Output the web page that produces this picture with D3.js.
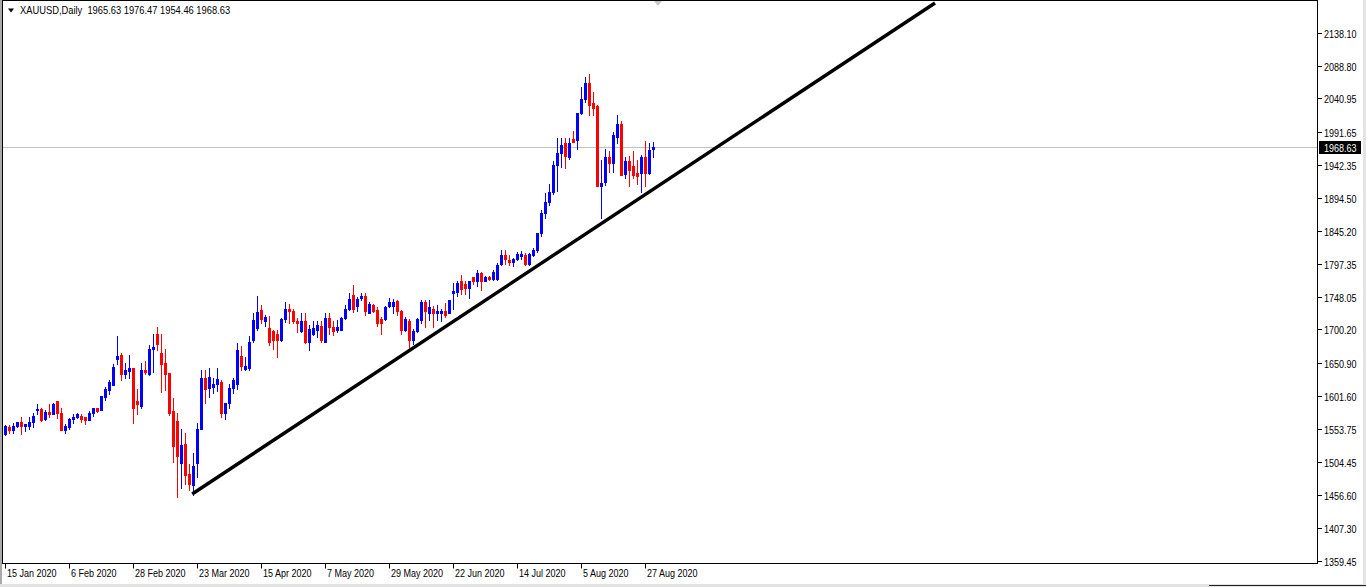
<!DOCTYPE html>
<html><head><meta charset="utf-8">
<script src="https://cdn.jsdelivr.net/npm/d3@7"></script>
<style>
html,body{margin:0;padding:0;background:#fff;overflow:hidden}
svg{display:block}
text{font-family:"Liberation Sans",Arial,sans-serif;font-size:11px;fill:#000}
</style></head><body>
<svg id="c" width="1366" height="587"></svg>
<script>
const symbol = "XAUUSD";
const timeframe = "Daily";
const dates = [
"2020-01-15","2020-01-16","2020-01-17","2020-01-20","2020-01-21","2020-01-22","2020-01-23","2020-01-24","2020-01-27","2020-01-28","2020-01-29","2020-01-30","2020-01-31",
"2020-02-03","2020-02-04","2020-02-05","2020-02-06","2020-02-07","2020-02-10","2020-02-11","2020-02-12","2020-02-13","2020-02-14","2020-02-17","2020-02-18","2020-02-19","2020-02-20","2020-02-21","2020-02-24","2020-02-25","2020-02-26","2020-02-27","2020-02-28",
"2020-03-02","2020-03-03","2020-03-04","2020-03-05","2020-03-06","2020-03-09","2020-03-10","2020-03-11","2020-03-12","2020-03-13","2020-03-16","2020-03-17","2020-03-18","2020-03-19","2020-03-20","2020-03-23","2020-03-24","2020-03-25","2020-03-26","2020-03-27","2020-03-30","2020-03-31",
"2020-04-01","2020-04-02","2020-04-03","2020-04-06","2020-04-07","2020-04-08","2020-04-09","2020-04-13","2020-04-14","2020-04-15","2020-04-16","2020-04-17","2020-04-20","2020-04-21","2020-04-22","2020-04-23","2020-04-24","2020-04-27","2020-04-28","2020-04-29","2020-04-30",
"2020-05-01","2020-05-04","2020-05-05","2020-05-06","2020-05-07","2020-05-08","2020-05-11","2020-05-12","2020-05-13","2020-05-14","2020-05-15","2020-05-18","2020-05-19","2020-05-20","2020-05-21","2020-05-22","2020-05-25","2020-05-26","2020-05-27","2020-05-28","2020-05-29",
"2020-06-01","2020-06-02","2020-06-03","2020-06-04","2020-06-05","2020-06-08","2020-06-09","2020-06-10","2020-06-11","2020-06-12","2020-06-15","2020-06-16","2020-06-17","2020-06-18","2020-06-19","2020-06-22","2020-06-23","2020-06-24","2020-06-25","2020-06-26","2020-06-29","2020-06-30",
"2020-07-01","2020-07-02","2020-07-03","2020-07-06","2020-07-07","2020-07-08","2020-07-09","2020-07-10","2020-07-13","2020-07-14","2020-07-15","2020-07-16","2020-07-17","2020-07-20","2020-07-21","2020-07-22","2020-07-23","2020-07-24","2020-07-27","2020-07-28","2020-07-29","2020-07-30","2020-07-31",
"2020-08-03","2020-08-04","2020-08-05","2020-08-06","2020-08-07","2020-08-10","2020-08-11","2020-08-12","2020-08-13","2020-08-14","2020-08-17","2020-08-18","2020-08-19","2020-08-20","2020-08-21","2020-08-24","2020-08-25","2020-08-26","2020-08-27","2020-08-28","2020-08-31"];
const opens = [1546,1557,1552,1558,1563,1558,1558,1563,1581,1583,1568,1579,1576,1595,1577,1552,1557,1568,1571,1573,1571,1566,1577,1585,1581,1600,1611,1618,1656,1662,1634,1639,1644,1594,1587,1641,1635,1672,1693,1666,1651,1636,1580,1565,1503,1531,1487,1471,1503,1554,1629,1614,1616,1620,1623,1577,1591,1614,1620,1661,1642,1643,1685,1702,1729,1713,1703,1698,1694,1685,1715,1730,1728,1712,1698,1713,1682,1693,1700,1705,1682,1717,1704,1699,1700,1717,1731,1751,1735,1746,1750,1725,1736,1729,1715,1715,1735,1735,1742,1728,1699,1712,1684,1698,1714,1741,1724,1731,1725,1725,1728,1725,1754,1755,1771,1767,1762,1777,1772,1783,1772,1778,1775,1775,1797,1810,1803,1799,1804,1809,1810,1797,1810,1817,1842,1872,1888,1903,1943,1960,1975,1955,1981,1980,2020,2040,2064,2034,2029,1912,1918,1955,1945,1984,2003,1929,1948,1941,1931,1931,1954,1931,1965.63];
const highs = [1559,1559,1562,1564,1571,1561,1571,1577,1590,1584,1581,1590,1592,1595,1584,1561,1570,1576,1577,1576,1571,1580,1585,1585,1602,1616,1626,1649,1690,1666,1651,1662,1644,1612,1651,1653,1677,1693,1704,1694,1672,1636,1599,1577,1554,1547,1502,1518,1562,1641,1641,1643,1628,1643,1626,1592,1620,1628,1680,1676,1660,1690,1724,1749,1736,1721,1720,1699,1699,1717,1741,1738,1730,1717,1724,1724,1707,1712,1713,1712,1724,1725,1713,1714,1718,1736,1754,1766,1748,1754,1754,1740,1738,1733,1718,1735,1746,1745,1744,1729,1718,1715,1701,1717,1744,1743,1744,1735,1736,1731,1739,1743,1768,1771,1780,1771,1772,1778,1788,1785,1779,1779,1788,1798,1818,1818,1810,1805,1815,1816,1813,1813,1820,1843,1877,1901,1915,1948,1982,1982,1982,1982,1993,2020,2058,2072,2077,2050,2031,1950,1967,1964,1992,2016,2007,1955,1956,1964,1950,1958,1978,1975,1976.47];
const lows = [1545,1548,1548,1557,1546,1551,1553,1557,1575,1565,1567,1571,1575,1570,1552,1548,1553,1562,1569,1563,1561,1566,1573,1579,1581,1596,1605,1618,1649,1625,1628,1628,1562,1575,1584,1635,1633,1638,1670,1608,1611,1574,1505,1453,1466,1473,1463,1456,1483,1554,1592,1601,1607,1610,1571,1568,1585,1606,1613,1640,1640,1640,1681,1700,1709,1705,1677,1672,1660,1683,1711,1709,1709,1697,1697,1680,1670,1692,1689,1682,1682,1694,1692,1697,1699,1715,1729,1726,1728,1743,1721,1724,1726,1706,1694,1714,1734,1725,1721,1693,1698,1670,1678,1696,1709,1704,1714,1704,1714,1713,1718,1724,1730,1749,1753,1753,1747,1767,1764,1758,1771,1773,1773,1773,1795,1797,1795,1794,1803,1804,1795,1795,1808,1815,1838,1865,1883,1900,1905,1940,1939,1952,1977,1967,2018,2036,2016,2016,1912,1864,1913,1933,1933,1975,1928,1924,1912,1924,1914,1903,1911,1929,1954.46];
const closes = [1558,1552,1558,1563,1558,1561,1564,1573,1583,1567,1579,1575,1590,1577,1552,1558,1568,1571,1575,1568,1566,1577,1585,1580,1602,1613,1622,1645,1661,1634,1641,1644,1585,1590,1641,1638,1672,1675,1679,1649,1634,1577,1528,1513,1530,1486,1472,1499,1554,1629,1612,1630,1620,1627,1577,1591,1614,1626,1670,1646,1647,1682,1714,1726,1715,1719,1682,1685,1685,1715,1731,1727,1712,1709,1713,1682,1701,1703,1707,1684,1717,1704,1698,1704,1717,1731,1745,1731,1745,1750,1728,1738,1728,1709,1710,1733,1740,1740,1728,1699,1715,1685,1698,1715,1740,1728,1734,1724,1728,1728,1722,1743,1757,1768,1760,1762,1772,1772,1783,1771,1777,1775,1785,1795,1810,1804,1799,1804,1811,1811,1797,1811,1818,1842,1872,1888,1903,1942,1960,1972,1956,1975,1977,2020,2040,2064,2031,2027,1912,1916,1955,1945,1987,2003,1928,1948,1936,1928,1927,1955,1931,1965,1968.63];
const priceTicks = ["2138.10","2088.80","2040.95","1991.65","1942.35","1894.50","1845.20","1797.35","1748.05","1700.20","1650.90","1601.60","1553.75","1504.45","1456.60","1407.30","1359.45"];
const dateLabels = ["15 Jan 2020","6 Feb 2020","28 Feb 2020","23 Mar 2020","15 Apr 2020","7 May 2020","29 May 2020","22 Jun 2020","14 Jul 2020","5 Aug 2020","27 Aug 2020"];
const dateLabelDates = ["2020-01-15","2020-02-06","2020-02-28","2020-03-23","2020-04-15","2020-05-07","2020-05-29","2020-06-22","2020-07-14","2020-08-05","2020-08-27"];
const lastPrice = 1968.63;
// trend line anchors: [bar index, price]
const trendBars = [46.9, 232.6];
const trendPrices = [1457.5, 2181.6];

const svg = d3.select("#c");
const W = 1366, H = 587;
const plot = {l: 2.5, t: 0.5, r: 1317.5, b: 563.5};
const NARROW = 0.82;

const x = d3.scaleLinear().domain([0, dates.length - 1]).range([4.6, 4.6 + 4 * (dates.length - 1)]);
const y = d3.scaleLinear().domain([1359.45, 2138.10]).range([560.5, 32.5]);

function label(parent, tx, ty, str, fill, sx) {
  return parent.append("text")
    .attr("transform", `translate(${tx},${ty}) scale(${sx || NARROW},1)`)
    .style("fill", fill || "#000")
    .attr("xml:space","preserve").style("white-space","pre")
    .text(str);
}

// frame
svg.append("rect").attr("x",0).attr("y",0).attr("width",W).attr("height",H).attr("fill","#fff");
svg.append("rect").attr("x",0).attr("y",0).attr("width",2).attr("height",584).attr("fill","#a9a9a9");
svg.append("rect").attr("x",1363).attr("y",0).attr("width",3).attr("height",584).attr("fill","#e3e3e3");
svg.append("rect").attr("x",0).attr("y",584).attr("width",W).attr("height",3).attr("fill","#e3e3e3");
svg.append("line").attr("x1",1209).attr("x2",W).attr("y1",585.5).attr("y2",585.5).attr("stroke","#222").attr("stroke-width",1);

svg.append("defs").append("clipPath").attr("id","pc").append("rect")
  .attr("x",plot.l+0.5).attr("y",plot.t+0.5).attr("width",plot.r-plot.l-1).attr("height",plot.b-plot.t-1);

const g = svg.append("g").attr("clip-path","url(#pc)");

// last price line
const ly = Math.round(y(lastPrice)) + 0.5;
g.append("line").attr("x1",plot.l).attr("x2",plot.r).attr("y1",ly).attr("y2",ly).attr("stroke","#c0c0c0").attr("stroke-width",1);

// candles
const data = dates.map((d,i)=>({i, o:opens[i], h:highs[i], l:lows[i], c:closes[i]}));
const cg = g.append("g").attr("shape-rendering","crispEdges");
const cs = cg.selectAll("g.c").data(data).join("g").attr("class","c");
cs.each(function(d){
  const col = d.c >= d.o ? "#0000ff" : "#ff0000";
  const cx = Math.round(x(d.i));
  const s = d3.select(this);
  const yh = Math.round(y(d.h)), yl = Math.round(y(d.l));
  s.append("rect").attr("x",cx).attr("y",yh).attr("width",1).attr("height",Math.max(1,yl-yh+1)).attr("fill",col);
  const yt = Math.round(y(Math.max(d.o,d.c))), yb = Math.round(y(Math.min(d.o,d.c)));
  s.append("rect").attr("x",cx-1).attr("y",yt).attr("width",3).attr("height",Math.max(1,yb-yt+1)).attr("fill",col);
});

// trend line
g.append("line")
  .attr("x1",x(trendBars[0])).attr("y1",y(trendPrices[0]))
  .attr("x2",x(trendBars[1])).attr("y2",y(trendPrices[1]))
  .attr("stroke","#000").attr("stroke-width",3.4);

// plot border
svg.append("path")
  .attr("d",`M${plot.l},${plot.b}V${plot.t}H${plot.r}V${plot.b}H${plot.l}Z`)
  .attr("fill","none").attr("stroke","#000").attr("stroke-width",1).attr("shape-rendering","crispEdges");

// shift marker
svg.append("path").attr("d","M654,1L662,1L658,6Z").attr("fill","#c8c8c8");

// header
svg.append("path").attr("d","M8,8.5L14,8.5L11,12.5Z").attr("fill","#000");
label(svg, 20, 14, `${symbol},${timeframe}  ${opens[opens.length-1].toFixed(2)} ${highs[highs.length-1].toFixed(2)} ${lows[lows.length-1].toFixed(2)} ${closes[closes.length-1].toFixed(2)}`, "#000", 0.85);

// price axis
const pa = svg.append("g");
priceTicks.forEach(t=>{
  const ty = Math.round(y(+t));
  pa.append("line").attr("x1",1318).attr("x2",1322).attr("y1",ty+0.5).attr("y2",ty+0.5).attr("stroke","#000");
  label(pa, 1324, ty+4.5, t);
});
pa.append("rect").attr("x",1319).attr("y",ly-6.5).attr("width",42).attr("height",13).attr("fill","#000");
label(pa, 1324, ly+4, lastPrice.toFixed(2), "#fff");

// date axis
const da = svg.append("g");
dateLabels.forEach((lab,k)=>{
  const i = dates.indexOf(dateLabelDates[k]);
  const tx = Math.round(x(i)) + 0.5;
  da.append("line").attr("x1",tx).attr("x2",tx).attr("y1",plot.b).attr("y2",plot.b+5).attr("stroke","#000");
  label(da, tx+1.5, 577, lab);
});
</script>
</body></html>
